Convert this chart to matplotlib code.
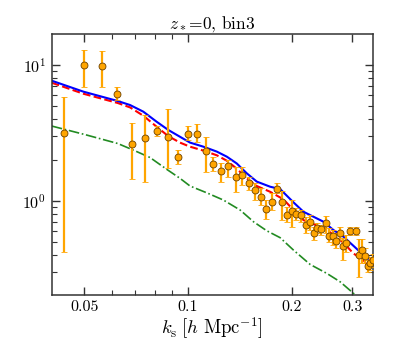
import numpy as np
import matplotlib
matplotlib.use("Agg")
import matplotlib.pyplot as plt
from matplotlib.ticker import LogLocator, FixedLocator, FixedFormatter, NullFormatter

plt.rcParams["font.family"] = "serif"
plt.rcParams["font.serif"] = ["cmr10", "DejaVu Serif"]
plt.rcParams["mathtext.fontset"] = "cm"
plt.rcParams["axes.formatter.use_mathtext"] = True

# measured power spectrum (points with asymmetric errors)
k_data = [0.0437, 0.0500, 0.0561, 0.0624, 0.0688, 0.0748, 0.0811, 0.0875,
          0.0938, 0.1000, 0.1063, 0.1127, 0.1186, 0.1248, 0.1311, 0.1377,
          0.1440, 0.1500, 0.1567, 0.1628, 0.1687, 0.1757, 0.1812, 0.1878,
          0.1940, 0.2000, 0.2063, 0.2128, 0.2196, 0.2255, 0.2316, 0.2378,
          0.2443, 0.2510, 0.2566, 0.2630, 0.2695, 0.2756, 0.2818, 0.2880,
          0.2947, 0.3068, 0.3137, 0.3200, 0.3258, 0.3324, 0.3385, 0.3446]
p_data = [3.15, 10.0, 9.89, 6.15, 2.61, 2.89, 3.25, 2.95,
          2.11, 3.13, 3.13, 2.32, 1.87, 1.65, 1.82, 1.50,
          1.55, 1.36, 1.198, 1.07, 0.873, 0.983, 1.225, 0.978,
          0.789, 0.839, 0.802, 0.789, 0.670, 0.697, 0.585, 0.637,
          0.619, 0.689, 0.553, 0.553, 0.508, 0.585, 0.464, 0.489,
          0.602, 0.605, 0.399, 0.434, 0.394, 0.335, 0.348, 0.372]
p_hi = [5.85, 12.9, 12.75, 6.85, 3.77, 4.29, 3.56, 4.72,
        2.37, 3.56, 3.68, 2.97, 2.12, 1.89, 2.00, 1.79,
        1.79, 1.51, 1.36, 1.24, 1.017, 1.139, 1.36, 1.191,
        0.908, 1.017, 0.883, 0.859, 0.767, 0.789, 0.647, 0.685,
        0.666, 0.776, 0.630, 0.612, 0.578, 0.647, 0.531, 0.562,
        0.647, 0.647, 0.523, 0.523, 0.449, 0.368, 0.390, 0.41]
p_lo = [0.424, 6.93, 6.85, 5.53, 1.45, 1.39, 3.00, 1.74,
        1.87, 2.81, 2.73, 1.64, 1.67, 1.39, 1.51, 1.16,
        1.31, 1.205, 1.017, 0.935, 0.737, 0.859, 1.152, 0.725,
        0.705, 0.647, 0.725, 0.705, 0.578, 0.612, 0.517, 0.578,
        0.562, 0.578, 0.502, 0.475, 0.449, 0.517, 0.372, 0.424,
        0.562, 0.562, 0.278, 0.348, 0.348, 0.302, 0.311, 0.33]

# model curves
k_blue = [0.0402, 0.0497, 0.0625, 0.0679, 0.0742, 0.0811, 0.0877, 0.0948,
          0.1014, 0.1109, 0.1213, 0.1297, 0.1386, 0.1482, 0.1585, 0.1733,
          0.1853, 0.2026, 0.2165, 0.2316, 0.2476, 0.2648, 0.2830, 0.3025,
          0.3235, 0.3460]
p_blue = [7.67, 6.37, 5.44, 5.08, 4.54, 3.83, 3.33, 2.97,
          2.69, 2.51, 2.31, 2.12, 1.89, 1.60, 1.39, 1.275,
          1.225, 0.978, 0.835, 0.767, 0.705, 0.612, 0.547, 0.469,
          0.401, 0.358]

k_red = [0.0402, 0.0497, 0.0625, 0.0679, 0.0742, 0.0811, 0.0877, 0.0948,
         0.1014, 0.1109, 0.1213, 0.1297, 0.1386, 0.1482, 0.1585, 0.1733,
         0.1894, 0.2026, 0.2165, 0.2316, 0.2476, 0.2648, 0.2830, 0.3025,
         0.3235, 0.3385]
p_red = [7.41, 6.15, 5.26, 4.88, 4.24, 3.52, 3.00, 2.69,
         2.51, 2.35, 2.17, 1.98, 1.73, 1.47, 1.29, 1.17,
         1.03, 0.859, 0.725, 0.677, 0.630, 0.569, 0.494, 0.412,
         0.368, 0.315]

k_green = [0.0402, 0.0500, 0.0625, 0.0694, 0.0776, 0.0868, 0.0948, 0.1014,
           0.1134, 0.1268, 0.1418, 0.1550, 0.1694, 0.1853, 0.2026, 0.2265,
           0.2532, 0.2768, 0.3025, 0.3310]
p_green = [3.56, 3.09, 2.65, 2.37, 2.09, 1.71, 1.47, 1.29,
           1.15, 1.017, 0.859, 0.705, 0.605, 0.538, 0.436, 0.342,
           0.294, 0.255, 0.210, 0.172]

x_ticks = [0.05, 0.1, 0.2, 0.3]
x_ticklabels = ["0.05", "0.1", "0.2", "0.3"]

fig = plt.figure(figsize=(4.15, 3.46), dpi=100)
ax = fig.add_axes([0.1246, 0.1474, 0.7744, 0.7543])

ax.plot(k_green, p_green, color="#228b22", ls="-.", lw=1.2)
ax.plot(k_red, p_red, color="red", ls="--", lw=1.5)
ax.plot(k_blue, p_blue, color="blue", ls="-", lw=1.5)

k = np.array(k_data)
p = np.array(p_data)
yerr = [p - np.array(p_lo), np.array(p_hi) - p]
ax.errorbar(k, p, yerr=yerr, fmt="o", color="orange", ecolor="orange",
            elinewidth=1.6, capsize=2, capthick=1.0, ms=5,
            mfc="orange", mec="#6b4000", mew=0.6, zorder=3)

ax.set_xscale("log")
ax.set_yscale("log")
ax.set_xlim(0.0402, 0.345)
ax.set_ylim(0.204, 16.9)

ax.xaxis.set_major_locator(FixedLocator(x_ticks))
ax.xaxis.set_major_formatter(FixedFormatter(x_ticklabels))
ax.xaxis.set_minor_locator(LogLocator(base=10, subs=np.arange(2, 10)))
ax.xaxis.set_minor_formatter(NullFormatter())
ax.yaxis.set_minor_formatter(NullFormatter())

for s in ax.spines.values():
    s.set_linewidth(1.1)
    s.set_color("0.2")
ax.tick_params(which="both", direction="in", top=True, right=True,
               color="0.2", labelsize=11.5)
ax.tick_params(which="major", length=6, width=1.0, pad=4)
ax.tick_params(which="minor", length=3.5, width=0.8)

ax.set_title(r"$z_*$=0, bin3", fontsize=12.5, pad=3)
ax.set_xlabel(r"$k_{\rm s}\;[h\ {\rm Mpc}^{-1}]$", fontsize=13.5, labelpad=1)

fig.savefig("out.png", dpi=100)
